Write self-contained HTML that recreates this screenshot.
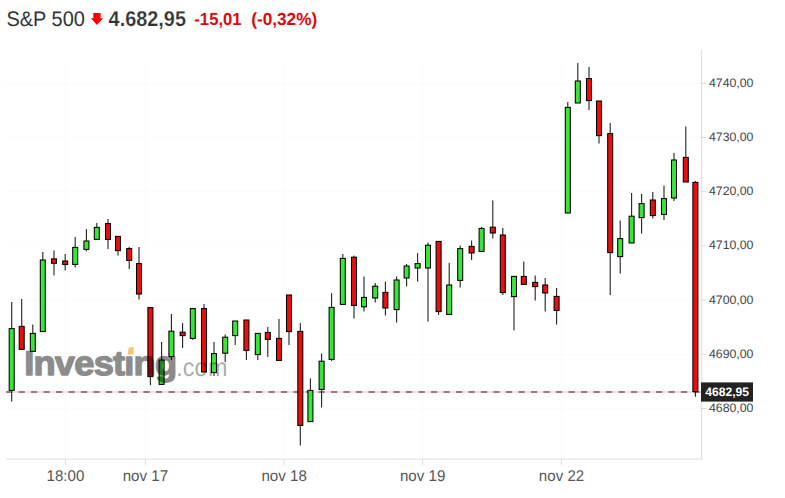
<!DOCTYPE html>
<html><head><meta charset="utf-8"><title>S&amp;P 500</title>
<style>html,body{margin:0;padding:0;background:#fff;}body{width:785px;height:498px;overflow:hidden;}svg{display:block;}text{text-rendering:geometricPrecision;}</style>
</head><body>
<svg width="785" height="498" viewBox="0 0 785 498">
<line x1="6" y1="83.3" x2="701" y2="83.3" stroke="#fbfbfb" stroke-width="1"/>
<line x1="6" y1="137.5" x2="701" y2="137.5" stroke="#fbfbfb" stroke-width="1"/>
<line x1="6" y1="191.7" x2="701" y2="191.7" stroke="#fbfbfb" stroke-width="1"/>
<line x1="6" y1="245.9" x2="701" y2="245.9" stroke="#fbfbfb" stroke-width="1"/>
<line x1="6" y1="300.1" x2="701" y2="300.1" stroke="#fbfbfb" stroke-width="1"/>
<line x1="6" y1="354.3" x2="701" y2="354.3" stroke="#fbfbfb" stroke-width="1"/>
<line x1="6" y1="408.5" x2="701" y2="408.5" stroke="#fbfbfb" stroke-width="1"/>
<line x1="65.4" y1="62" x2="65.4" y2="459" stroke="#fbfbfb" stroke-width="1"/>
<line x1="145.4" y1="62" x2="145.4" y2="459" stroke="#fbfbfb" stroke-width="1"/>
<line x1="284.1" y1="62" x2="284.1" y2="459" stroke="#fbfbfb" stroke-width="1"/>
<line x1="422.6" y1="62" x2="422.6" y2="459" stroke="#fbfbfb" stroke-width="1"/>
<line x1="561.5" y1="62" x2="561.5" y2="459" stroke="#fbfbfb" stroke-width="1"/>
<line x1="701.5" y1="50" x2="701.5" y2="459.5" stroke="#e2e2e2" stroke-width="1.3"/>
<line x1="6" y1="459.1" x2="702" y2="459.1" stroke="#e4e4e4" stroke-width="1.4"/>
<line x1="701.5" y1="83.3" x2="706" y2="83.3" stroke="#d8d8d8" stroke-width="1"/>
<line x1="701.5" y1="137.5" x2="706" y2="137.5" stroke="#d8d8d8" stroke-width="1"/>
<line x1="701.5" y1="191.7" x2="706" y2="191.7" stroke="#d8d8d8" stroke-width="1"/>
<line x1="701.5" y1="245.9" x2="706" y2="245.9" stroke="#d8d8d8" stroke-width="1"/>
<line x1="701.5" y1="300.1" x2="706" y2="300.1" stroke="#d8d8d8" stroke-width="1"/>
<line x1="701.5" y1="354.3" x2="706" y2="354.3" stroke="#d8d8d8" stroke-width="1"/>
<line x1="701.5" y1="408.5" x2="706" y2="408.5" stroke="#d8d8d8" stroke-width="1"/>
<line x1="65.4" y1="459" x2="65.4" y2="465" stroke="#e0e0e0" stroke-width="1"/>
<line x1="145.4" y1="459" x2="145.4" y2="465" stroke="#e0e0e0" stroke-width="1"/>
<line x1="284.1" y1="459" x2="284.1" y2="465" stroke="#e0e0e0" stroke-width="1"/>
<line x1="422.6" y1="459" x2="422.6" y2="465" stroke="#e0e0e0" stroke-width="1"/>
<line x1="561.5" y1="459" x2="561.5" y2="465" stroke="#e0e0e0" stroke-width="1"/>
<text x="709" y="86.7" font-family="&quot;Liberation Sans&quot;, sans-serif" font-size="12.3" fill="#444">4740,00</text>
<text x="709" y="140.9" font-family="&quot;Liberation Sans&quot;, sans-serif" font-size="12.3" fill="#444">4730,00</text>
<text x="709" y="195.1" font-family="&quot;Liberation Sans&quot;, sans-serif" font-size="12.3" fill="#444">4720,00</text>
<text x="709" y="249.3" font-family="&quot;Liberation Sans&quot;, sans-serif" font-size="12.3" fill="#444">4710,00</text>
<text x="709" y="303.5" font-family="&quot;Liberation Sans&quot;, sans-serif" font-size="12.3" fill="#444">4700,00</text>
<text x="709" y="357.7" font-family="&quot;Liberation Sans&quot;, sans-serif" font-size="12.3" fill="#444">4690,00</text>
<text x="709" y="411.9" font-family="&quot;Liberation Sans&quot;, sans-serif" font-size="12.3" fill="#444">4680,00</text>
<text transform="translate(65.4,480.8) scale(0.975,1)" text-anchor="middle" font-family="&quot;Liberation Sans&quot;, sans-serif" font-size="15.5" fill="#555">18:00</text>
<text transform="translate(145.4,480.8) scale(0.975,1)" text-anchor="middle" font-family="&quot;Liberation Sans&quot;, sans-serif" font-size="15.5" fill="#555">nov 17</text>
<text transform="translate(284.1,480.8) scale(0.975,1)" text-anchor="middle" font-family="&quot;Liberation Sans&quot;, sans-serif" font-size="15.5" fill="#555">nov 18</text>
<text transform="translate(422.6,480.8) scale(0.975,1)" text-anchor="middle" font-family="&quot;Liberation Sans&quot;, sans-serif" font-size="15.5" fill="#555">nov 19</text>
<text transform="translate(561.5,480.8) scale(0.975,1)" text-anchor="middle" font-family="&quot;Liberation Sans&quot;, sans-serif" font-size="15.5" fill="#555">nov 22</text>
<line x1="6" y1="392" x2="701" y2="392" stroke="#f7d3da" stroke-width="1.5"/>
<line x1="6" y1="392" x2="701" y2="392" stroke="#7d5562" stroke-width="1.6" stroke-dasharray="6.2 6.3"/>
<line x1="11.7" y1="302" x2="11.7" y2="401.6" stroke="#222" stroke-width="1.1"/>
<rect x="9.20" y="328.6" width="5" height="61.8" fill="#38e638" stroke="#000" stroke-width="1.05"/>
<line x1="21.7" y1="299" x2="21.7" y2="349.4" stroke="#222" stroke-width="1.1"/>
<rect x="19.20" y="326.4" width="5" height="23.0" fill="#ec0e0e" stroke="#000" stroke-width="1.05"/>
<line x1="32.8" y1="324.4" x2="32.8" y2="351.4" stroke="#222" stroke-width="1.1"/>
<rect x="30.30" y="333.4" width="5" height="18.0" fill="#38e638" stroke="#000" stroke-width="1.05"/>
<line x1="42.8" y1="252" x2="42.8" y2="331.6" stroke="#222" stroke-width="1.1"/>
<rect x="40.30" y="260" width="5" height="71.6" fill="#38e638" stroke="#000" stroke-width="1.05"/>
<line x1="54" y1="250.4" x2="54" y2="275.2" stroke="#222" stroke-width="1.1"/>
<rect x="51.50" y="258.9" width="5" height="4.4" fill="#ec0e0e" stroke="#000" stroke-width="1.05"/>
<line x1="65.2" y1="254" x2="65.2" y2="270.5" stroke="#222" stroke-width="1.1"/>
<rect x="62.70" y="261" width="5" height="3.5" fill="#ec0e0e" stroke="#000" stroke-width="1.05"/>
<line x1="75.2" y1="237" x2="75.2" y2="267.6" stroke="#222" stroke-width="1.1"/>
<rect x="72.70" y="247.4" width="5" height="17.0" fill="#38e638" stroke="#000" stroke-width="1.05"/>
<line x1="86.4" y1="229" x2="86.4" y2="251.6" stroke="#222" stroke-width="1.1"/>
<rect x="83.90" y="241" width="5" height="8.4" fill="#38e638" stroke="#000" stroke-width="1.05"/>
<line x1="96.8" y1="223" x2="96.8" y2="239.4" stroke="#222" stroke-width="1.1"/>
<rect x="94.30" y="227.4" width="5" height="12.0" fill="#38e638" stroke="#000" stroke-width="1.05"/>
<line x1="108" y1="219" x2="108" y2="249" stroke="#222" stroke-width="1.1"/>
<rect x="105.50" y="223.6" width="5" height="15.8" fill="#ec0e0e" stroke="#000" stroke-width="1.05"/>
<line x1="118" y1="236" x2="118" y2="255.6" stroke="#222" stroke-width="1.1"/>
<rect x="115.50" y="236.4" width="5" height="14.2" fill="#ec0e0e" stroke="#000" stroke-width="1.05"/>
<line x1="129.2" y1="247" x2="129.2" y2="269" stroke="#222" stroke-width="1.1"/>
<rect x="126.70" y="248.6" width="5" height="11.8" fill="#ec0e0e" stroke="#000" stroke-width="1.05"/>
<line x1="139" y1="247" x2="139" y2="299.6" stroke="#222" stroke-width="1.1"/>
<rect x="136.50" y="263.6" width="5" height="30.4" fill="#ec0e0e" stroke="#000" stroke-width="1.05"/>
<line x1="150.4" y1="307.6" x2="150.4" y2="385" stroke="#222" stroke-width="1.1"/>
<rect x="147.90" y="307.6" width="5" height="69.0" fill="#ec0e0e" stroke="#000" stroke-width="1.05"/>
<line x1="161.6" y1="342" x2="161.6" y2="384.4" stroke="#222" stroke-width="1.1"/>
<rect x="159.10" y="360" width="5" height="24.4" fill="#38e638" stroke="#000" stroke-width="1.05"/>
<line x1="171.4" y1="314" x2="171.4" y2="360" stroke="#222" stroke-width="1.1"/>
<rect x="168.90" y="331.2" width="5" height="25.4" fill="#38e638" stroke="#000" stroke-width="1.05"/>
<line x1="182.6" y1="323" x2="182.6" y2="348" stroke="#222" stroke-width="1.1"/>
<rect x="180.10" y="332.2" width="5" height="3.4" fill="#ec0e0e" stroke="#000" stroke-width="1.05"/>
<line x1="192.8" y1="308.6" x2="192.8" y2="340" stroke="#222" stroke-width="1.1"/>
<rect x="190.30" y="308.6" width="5" height="29.8" fill="#38e638" stroke="#000" stroke-width="1.05"/>
<line x1="204" y1="304" x2="204" y2="372" stroke="#222" stroke-width="1.1"/>
<rect x="201.50" y="308.6" width="5" height="63.4" fill="#ec0e0e" stroke="#000" stroke-width="1.05"/>
<line x1="214" y1="342" x2="214" y2="376" stroke="#222" stroke-width="1.1"/>
<rect x="211.50" y="353.6" width="5" height="19.0" fill="#38e638" stroke="#000" stroke-width="1.05"/>
<line x1="225.2" y1="334.4" x2="225.2" y2="362" stroke="#222" stroke-width="1.1"/>
<rect x="222.70" y="337.2" width="5" height="16.0" fill="#38e638" stroke="#000" stroke-width="1.05"/>
<line x1="235.2" y1="321" x2="235.2" y2="345" stroke="#222" stroke-width="1.1"/>
<rect x="232.70" y="321" width="5" height="14.6" fill="#38e638" stroke="#000" stroke-width="1.05"/>
<line x1="246.4" y1="320" x2="246.4" y2="360" stroke="#222" stroke-width="1.1"/>
<rect x="243.90" y="320" width="5" height="30.4" fill="#ec0e0e" stroke="#000" stroke-width="1.05"/>
<line x1="257.8" y1="333.4" x2="257.8" y2="360" stroke="#222" stroke-width="1.1"/>
<rect x="255.30" y="333.4" width="5" height="21.2" fill="#38e638" stroke="#000" stroke-width="1.05"/>
<line x1="267.8" y1="327" x2="267.8" y2="357" stroke="#222" stroke-width="1.1"/>
<rect x="265.30" y="332.4" width="5" height="7.0" fill="#ec0e0e" stroke="#000" stroke-width="1.05"/>
<line x1="279" y1="319" x2="279" y2="360.4" stroke="#222" stroke-width="1.1"/>
<rect x="276.50" y="338.4" width="5" height="22.0" fill="#ec0e0e" stroke="#000" stroke-width="1.05"/>
<line x1="289" y1="295" x2="289" y2="345" stroke="#222" stroke-width="1.1"/>
<rect x="286.50" y="295" width="5" height="36.6" fill="#ec0e0e" stroke="#000" stroke-width="1.05"/>
<line x1="300.3" y1="323" x2="300.3" y2="445.4" stroke="#222" stroke-width="1.1"/>
<rect x="297.80" y="331.4" width="5" height="94.0" fill="#ec0e0e" stroke="#000" stroke-width="1.05"/>
<line x1="310.4" y1="378.4" x2="310.4" y2="421.6" stroke="#222" stroke-width="1.1"/>
<rect x="307.90" y="390.4" width="5" height="31.2" fill="#38e638" stroke="#000" stroke-width="1.05"/>
<line x1="321.6" y1="353.4" x2="321.6" y2="407.5" stroke="#222" stroke-width="1.1"/>
<rect x="319.10" y="361.2" width="5" height="28.3" fill="#38e638" stroke="#000" stroke-width="1.05"/>
<line x1="331.6" y1="293" x2="331.6" y2="361" stroke="#222" stroke-width="1.1"/>
<rect x="329.10" y="307.4" width="5" height="52.0" fill="#38e638" stroke="#000" stroke-width="1.05"/>
<line x1="342.8" y1="254" x2="342.8" y2="304.4" stroke="#222" stroke-width="1.1"/>
<rect x="340.30" y="258.4" width="5" height="46.0" fill="#38e638" stroke="#000" stroke-width="1.05"/>
<line x1="354" y1="255.6" x2="354" y2="318.6" stroke="#222" stroke-width="1.1"/>
<rect x="351.50" y="257.2" width="5" height="48.2" fill="#ec0e0e" stroke="#000" stroke-width="1.05"/>
<line x1="364" y1="276.6" x2="364" y2="311.4" stroke="#222" stroke-width="1.1"/>
<rect x="361.50" y="297.4" width="5" height="9.4" fill="#38e638" stroke="#000" stroke-width="1.05"/>
<line x1="375.2" y1="283" x2="375.2" y2="302.6" stroke="#222" stroke-width="1.1"/>
<rect x="372.70" y="286.2" width="5" height="11.8" fill="#38e638" stroke="#000" stroke-width="1.05"/>
<line x1="385.4" y1="281.6" x2="385.4" y2="315.6" stroke="#222" stroke-width="1.1"/>
<rect x="382.90" y="292.4" width="5" height="15.6" fill="#ec0e0e" stroke="#000" stroke-width="1.05"/>
<line x1="396.6" y1="276.6" x2="396.6" y2="322.6" stroke="#222" stroke-width="1.1"/>
<rect x="394.10" y="280" width="5" height="29.6" fill="#38e638" stroke="#000" stroke-width="1.05"/>
<line x1="406.6" y1="264" x2="406.6" y2="286.6" stroke="#222" stroke-width="1.1"/>
<rect x="404.10" y="266" width="5" height="12.0" fill="#38e638" stroke="#000" stroke-width="1.05"/>
<line x1="417.6" y1="253" x2="417.6" y2="281.6" stroke="#222" stroke-width="1.1"/>
<rect x="415.10" y="263.6" width="5" height="4.4" fill="#38e638" stroke="#000" stroke-width="1.05"/>
<line x1="428" y1="242.4" x2="428" y2="321.6" stroke="#222" stroke-width="1.1"/>
<rect x="425.50" y="245.2" width="5" height="22.8" fill="#38e638" stroke="#000" stroke-width="1.05"/>
<line x1="438.6" y1="241.4" x2="438.6" y2="315" stroke="#222" stroke-width="1.1"/>
<rect x="436.10" y="241.4" width="5" height="70.2" fill="#ec0e0e" stroke="#000" stroke-width="1.05"/>
<line x1="449.2" y1="263" x2="449.2" y2="314.4" stroke="#222" stroke-width="1.1"/>
<rect x="446.70" y="285" width="5" height="29.4" fill="#38e638" stroke="#000" stroke-width="1.05"/>
<line x1="460.2" y1="245.6" x2="460.2" y2="287.6" stroke="#222" stroke-width="1.1"/>
<rect x="457.70" y="248.6" width="5" height="31.8" fill="#38e638" stroke="#000" stroke-width="1.05"/>
<line x1="471.6" y1="240.4" x2="471.6" y2="260" stroke="#222" stroke-width="1.1"/>
<rect x="469.10" y="246.4" width="5" height="6.6" fill="#ec0e0e" stroke="#000" stroke-width="1.05"/>
<line x1="481.6" y1="227" x2="481.6" y2="251.4" stroke="#222" stroke-width="1.1"/>
<rect x="479.10" y="228.4" width="5" height="23.0" fill="#38e638" stroke="#000" stroke-width="1.05"/>
<line x1="492.8" y1="200.4" x2="492.8" y2="238.6" stroke="#222" stroke-width="1.1"/>
<rect x="490.30" y="227.2" width="5" height="5.8" fill="#ec0e0e" stroke="#000" stroke-width="1.05"/>
<line x1="502.8" y1="228" x2="502.8" y2="295" stroke="#222" stroke-width="1.1"/>
<rect x="500.30" y="235" width="5" height="57.6" fill="#ec0e0e" stroke="#000" stroke-width="1.05"/>
<line x1="514" y1="276.4" x2="514" y2="330.4" stroke="#222" stroke-width="1.1"/>
<rect x="511.50" y="276.4" width="5" height="20.2" fill="#38e638" stroke="#000" stroke-width="1.05"/>
<line x1="523.8" y1="261.6" x2="523.8" y2="284.4" stroke="#222" stroke-width="1.1"/>
<rect x="521.30" y="276.4" width="5" height="8.0" fill="#ec0e0e" stroke="#000" stroke-width="1.05"/>
<line x1="535.2" y1="275.6" x2="535.2" y2="300.4" stroke="#222" stroke-width="1.1"/>
<rect x="532.70" y="282.4" width="5" height="4.2" fill="#ec0e0e" stroke="#000" stroke-width="1.05"/>
<line x1="545.2" y1="278" x2="545.2" y2="311.6" stroke="#222" stroke-width="1.1"/>
<rect x="542.70" y="285" width="5" height="8.0" fill="#ec0e0e" stroke="#000" stroke-width="1.05"/>
<line x1="556.6" y1="288" x2="556.6" y2="324.4" stroke="#222" stroke-width="1.1"/>
<rect x="554.10" y="296.4" width="5" height="14.0" fill="#ec0e0e" stroke="#000" stroke-width="1.05"/>
<line x1="567.8" y1="102" x2="567.8" y2="213" stroke="#222" stroke-width="1.1"/>
<rect x="565.30" y="107.4" width="5" height="105.6" fill="#38e638" stroke="#000" stroke-width="1.05"/>
<line x1="577.8" y1="63" x2="577.8" y2="103" stroke="#222" stroke-width="1.1"/>
<rect x="575.30" y="81" width="5" height="22.0" fill="#38e638" stroke="#000" stroke-width="1.05"/>
<line x1="589" y1="67" x2="589" y2="110" stroke="#222" stroke-width="1.1"/>
<rect x="586.50" y="78.6" width="5" height="22.0" fill="#ec0e0e" stroke="#000" stroke-width="1.05"/>
<line x1="599" y1="101" x2="599" y2="143.6" stroke="#222" stroke-width="1.1"/>
<rect x="596.50" y="101" width="5" height="34.6" fill="#ec0e0e" stroke="#000" stroke-width="1.05"/>
<line x1="610.2" y1="123" x2="610.2" y2="295" stroke="#222" stroke-width="1.1"/>
<rect x="607.70" y="133.6" width="5" height="119.0" fill="#ec0e0e" stroke="#000" stroke-width="1.05"/>
<line x1="620.2" y1="220.4" x2="620.2" y2="273.6" stroke="#222" stroke-width="1.1"/>
<rect x="617.70" y="238.6" width="5" height="18.0" fill="#38e638" stroke="#000" stroke-width="1.05"/>
<line x1="631.6" y1="193" x2="631.6" y2="243" stroke="#222" stroke-width="1.1"/>
<rect x="629.10" y="216.2" width="5" height="26.8" fill="#38e638" stroke="#000" stroke-width="1.05"/>
<line x1="641.6" y1="194" x2="641.6" y2="233.6" stroke="#222" stroke-width="1.1"/>
<rect x="639.10" y="203.6" width="5" height="14.0" fill="#38e638" stroke="#000" stroke-width="1.05"/>
<line x1="652.8" y1="192" x2="652.8" y2="218.4" stroke="#222" stroke-width="1.1"/>
<rect x="650.30" y="200" width="5" height="15.6" fill="#ec0e0e" stroke="#000" stroke-width="1.05"/>
<line x1="664" y1="185.6" x2="664" y2="220" stroke="#222" stroke-width="1.1"/>
<rect x="661.50" y="198.6" width="5" height="15.8" fill="#38e638" stroke="#000" stroke-width="1.05"/>
<line x1="674" y1="153" x2="674" y2="201" stroke="#222" stroke-width="1.1"/>
<rect x="671.50" y="160" width="5" height="38.0" fill="#38e638" stroke="#000" stroke-width="1.05"/>
<line x1="685.8" y1="126.6" x2="685.8" y2="182" stroke="#222" stroke-width="1.1"/>
<rect x="683.30" y="157.4" width="5" height="24.6" fill="#ec0e0e" stroke="#000" stroke-width="1.05"/>
<line x1="695.4" y1="181" x2="695.4" y2="396.8" stroke="#222" stroke-width="1.1"/>
<rect x="692.90" y="182.4" width="5" height="209.2" fill="#ec0e0e" stroke="#000" stroke-width="1.05"/>
<clipPath id="wmc"><path d="M0,0H785V498H0Z M125.4,340H135V354.9H125.4Z" clip-rule="evenodd"/></clipPath>
<g opacity="0.45" clip-path="url(#wmc)">
<text transform="translate(24.2,375.0) scale(1.055,1)" font-family="&quot;Liberation Sans&quot;, sans-serif" font-weight="bold" font-size="34.4" letter-spacing="-0.75" fill="#000" stroke="#000" stroke-width="1.4" stroke-linejoin="round">Investing</text>
</g>
<g opacity="0.33">
<text transform="translate(176.3,375.6) scale(0.92,1)" font-family="&quot;Liberation Sans&quot;, sans-serif" font-size="25.4" fill="#000">.co<tspan dx="0.6">m</tspan></text>
</g>
<path d="M127.6,354.4 L128.8,347.6 Q129,347.2 129.5,347.2 L133.4,347.2 Q134,347.2 133.9,347.8 L133.3,354 Q133.2,354.6 132.6,354.6 L128.1,354.6 Q127.5,354.6 127.6,354.4 Z" fill="#fbc26c"/>
<rect x="701" y="382.4" width="52" height="19.2" fill="#222"/>
<text transform="translate(705.2,396) scale(0.985,1)" font-family="&quot;Liberation Sans&quot;, sans-serif" font-weight="bold" font-size="12.3" fill="#fff">4682,95</text>
<text transform="translate(6.50,25.6) scale(0.949,1)" font-family="&quot;Liberation Sans&quot;, sans-serif" font-weight="normal" font-size="21.0" fill="#333">S&amp;P 500</text>
<polygon points="93.3,12.9 100.6,12.9 100.6,18.2 103,18.2 96.9,25 90.9,18.2 93.3,18.2" fill="#f00"/>
<text transform="translate(108.60,25.8) scale(0.929,1)" font-family="&quot;Liberation Sans&quot;, sans-serif" font-weight="bold" font-size="21.4" fill="#333" stroke="#fff" stroke-width="0.2">4.682,95</text>
<text transform="translate(194.33,24.9) scale(0.951,1)" font-family="&quot;Liberation Sans&quot;, sans-serif" font-weight="bold" font-size="17.5" fill="#dd0a0a">-15,01</text>
<text transform="translate(251.14,24.9) scale(0.986,1)" font-family="&quot;Liberation Sans&quot;, sans-serif" font-weight="bold" font-size="17.5" fill="#dd0a0a">(-0,32%)</text>
</svg>
</body></html>
